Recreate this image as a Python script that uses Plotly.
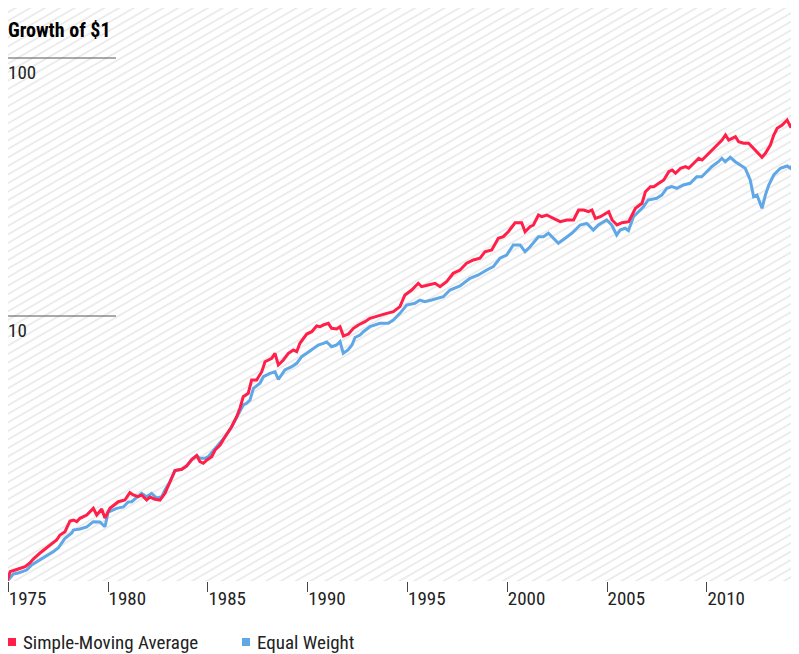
import base64
import math
import plotly.graph_objects as go

# ---------------- data ----------------
sma_years = [1974.95, 1975.09, 1975.34, 1975.59, 1975.84, 1976.08, 1976.25, 1976.59, 1976.84, 1977.09,
             1977.42, 1977.59, 1977.84, 1978.09, 1978.26, 1978.43, 1978.59, 1978.93, 1979.18, 1979.26,
             1979.43, 1979.68, 1979.84, 1980.09, 1980.51, 1980.84, 1981.09, 1981.26, 1981.51, 1981.68,
             1981.93, 1982.10, 1982.35, 1982.60, 1982.85, 1983.10, 1983.35, 1983.69, 1983.94, 1984.19,
             1984.44, 1984.60, 1984.77, 1984.95, 1985.19, 1985.36, 1985.61, 1985.86, 1986.19, 1986.44,
             1986.61, 1986.77, 1987.02, 1987.19, 1987.44, 1987.70, 1987.86, 1988.20, 1988.36, 1988.53,
             1988.78, 1989.03, 1989.28, 1989.45, 1989.61, 1989.95, 1990.20, 1990.45, 1990.62, 1990.78,
             1991.03, 1991.20, 1991.45, 1991.62, 1991.79, 1992.04, 1992.29, 1992.54, 1992.87, 1993.12,
             1993.62, 1993.96, 1994.29, 1994.62, 1994.87, 1995.21, 1995.54, 1995.71, 1996.04, 1996.38,
             1996.63, 1996.96, 1997.29, 1997.63, 1997.96, 1998.30, 1998.63, 1998.88, 1999.22, 1999.55,
             1999.80, 2000.05, 2000.39, 2000.72, 2000.89, 2001.14, 2001.31, 2001.56, 2001.73, 2001.98,
             2002.31, 2002.65, 2002.98, 2003.32, 2003.57, 2003.82, 2004.07, 2004.24, 2004.41, 2004.66,
             2005.08, 2005.25, 2005.50, 2005.75, 2006.08, 2006.25, 2006.42, 2006.75, 2006.92, 2007.17,
             2007.34, 2007.59, 2007.84, 2008.09, 2008.26, 2008.43, 2008.68, 2008.93, 2009.09, 2009.34,
             2009.59, 2009.76, 2010.01, 2010.34, 2010.59, 2010.76, 2010.93, 2011.09, 2011.26, 2011.43,
             2011.59, 2011.84, 2012.09, 2012.34, 2012.51, 2012.76, 2012.93, 2013.18, 2013.35, 2013.52,
             2013.77, 2014.02, 2014.10, 2014.19, 2014.35, 2014.55]
sma_values = [0.942, 1.021, 1.036, 1.055, 1.067, 1.103, 1.143, 1.206, 1.250, 1.295,
              1.354, 1.416, 1.459, 1.605, 1.619, 1.595, 1.644, 1.693, 1.770, 1.797,
              1.693, 1.786, 1.649, 1.797, 1.906, 1.935, 2.066, 2.024, 1.994, 2.024,
              1.935, 1.988, 1.948, 1.935, 2.055, 2.279, 2.519, 2.546, 2.622, 2.778,
              2.880, 2.724, 2.686, 2.766, 2.849, 3.024, 3.162, 3.405, 3.723, 4.072,
              4.400, 4.867, 5.017, 5.648, 5.648, 6.082, 6.651, 6.856, 7.169, 6.458,
              6.752, 7.169, 7.383, 7.272, 7.838, 8.515, 8.692, 9.147, 9.090, 9.229,
              9.370, 8.961, 8.905, 9.090, 8.366, 8.515, 8.961, 9.229, 9.504, 9.797,
              10.09, 10.24, 10.39, 10.87, 12.06, 12.61, 13.39, 12.99, 13.19, 13.39,
              12.99, 13.59, 14.64, 15.08, 16.01, 16.49, 16.74, 17.75, 18.03, 20.01,
              20.30, 21.22, 22.99, 22.99, 21.22, 22.19, 22.53, 24.63, 24.26, 24.63,
              23.91, 23.20, 23.56, 23.56, 25.76, 25.76, 25.37, 25.76, 23.91, 24.26,
              25.37, 23.56, 22.53, 22.99, 23.20, 24.63, 26.15, 27.35, 30.33, 31.71,
              31.71, 32.69, 33.67, 36.25, 36.81, 35.75, 37.37, 37.91, 37.37, 39.07,
              40.85, 40.24, 42.07, 44.67, 46.71, 48.11, 50.30, 48.11, 48.84, 49.55,
              47.38, 46.71, 46.71, 44.67, 43.34, 41.22, 42.72, 46.00, 50.30, 53.40,
              55.00, 57.51, 55.84, 54.17, 54.17, 56.63]

ew_years = [1975.00, 1975.25, 1975.50, 1975.92, 1976.17, 1976.75, 1977.25, 1977.50, 1977.84, 1978.18,
            1978.26, 1978.59, 1978.93, 1979.26, 1979.59, 1979.84, 1980.01, 1980.43, 1980.76, 1981.01,
            1981.18, 1981.68, 1981.93, 1982.18, 1982.43, 1982.69, 1982.85, 1983.10, 1983.35, 1983.69,
            1983.94, 1984.19, 1984.44, 1984.60, 1984.85, 1985.02, 1985.36, 1985.57, 1985.86, 1986.19,
            1986.52, 1986.77, 1986.94, 1987.11, 1987.28, 1987.61, 1987.78, 1988.11, 1988.36, 1988.53,
            1988.86, 1989.20, 1989.45, 1989.70, 1989.95, 1990.28, 1990.53, 1990.78, 1990.95, 1991.20,
            1991.45, 1991.62, 1991.78, 1992.02, 1992.22, 1992.37, 1992.62, 1992.79, 1993.12, 1993.62,
            1994.04, 1994.29, 1994.62, 1994.96, 1995.37, 1995.62, 1995.87, 1996.21, 1996.54, 1996.79,
            1997.13, 1997.63, 1998.13, 1998.55, 1998.97, 1999.30, 1999.63, 1999.97, 2000.30, 2000.64,
            2000.89, 2001.14, 2001.56, 2001.81, 2002.06, 2002.56, 2002.90, 2003.23, 2003.65, 2003.98,
            2004.31, 2004.56, 2004.98, 2005.23, 2005.48, 2005.65, 2005.90, 2006.07, 2006.32, 2006.57,
            2006.82, 2007.06, 2007.48, 2007.74, 2007.99, 2008.24, 2008.49, 2008.82, 2009.16, 2009.49,
            2009.74, 2009.99, 2010.24, 2010.58, 2010.75, 2010.92, 2011.17, 2011.42, 2011.67, 2011.92,
            2012.17, 2012.34, 2012.51, 2012.76, 2012.93, 2013.10, 2013.35, 2013.68, 2014.02, 2014.19,
            2014.35, 2014.55]
ew_values = [0.948, 1.000, 1.009, 1.036, 1.084, 1.153, 1.220, 1.261, 1.375, 1.442,
             1.481, 1.494, 1.521, 1.595, 1.591, 1.525, 1.739, 1.797, 1.819, 1.901,
             1.906, 2.055, 1.994, 2.055, 1.970, 1.994, 2.116, 2.279, 2.519, 2.546,
             2.622, 2.778, 2.880, 2.808, 2.808, 2.849, 3.071, 3.211, 3.405, 3.723,
             4.133, 4.519, 4.588, 4.725, 5.245, 5.485, 5.817, 5.997, 6.082, 5.684,
             6.176, 6.361, 6.556, 6.954, 7.169, 7.496, 7.720, 7.838, 7.929, 7.603,
             7.720, 7.951, 7.169, 7.383, 7.720, 8.254, 8.441, 8.692, 9.090, 9.370,
             9.370, 9.650, 10.24, 11.03, 11.20, 11.53, 11.36, 11.53, 11.71, 11.88,
             12.61, 13.07, 14.00, 14.42, 15.08, 15.53, 16.74, 17.24, 18.85, 18.85,
             17.75, 18.56, 20.30, 20.30, 20.92, 19.13, 20.01, 20.92, 22.53, 22.87,
             21.54, 22.53, 23.56, 22.53, 20.61, 21.54, 21.88, 21.41, 24.26, 25.37,
             26.52, 28.16, 28.59, 29.44, 31.26, 31.71, 31.26, 32.20, 32.69, 34.67,
             34.67, 36.25, 37.91, 39.63, 40.85, 39.63, 41.22, 39.63, 38.48, 37.37,
             33.67, 29.00, 29.44, 26.15, 29.44, 32.20, 35.20, 37.37, 38.14, 37.37,
             39.07, 40.85]

series_names = ["Simple-Moving Average", "Equal Weight"]
series_colors = ["#ff1f48", "#5fa7e6"]
x_tick_years = [1975, 1980, 1985, 1990, 1995, 2000, 2005, 2010]
y_tick_values = [10, 100]
title_text = "Growth of $1"

# ---------------- layout constants ----------------
# The page body adds an 8px offset, so the figure is sized to the remaining window.
OFF = 8
W, H = 799 - OFF, 654 - OFF
ML, MR, MT, MB = 0, 0, 0, 73
PW, PH = W - ML - MR, H - MT - MB
FONT = "Liberation Sans Narrow, Arial Narrow, Roboto Condensed, DejaVu Sans Condensed, sans-serif"
TEXT_COLOR = "#222222"

def sx(px):
    """screen x pixel -> paper x"""
    return (px - OFF - ML) / PW

def sy(py):
    """screen y pixel -> paper y"""
    return (H - MB - (py - OFF)) / PH

# diagonal hatch background as an SVG image
hatch_svg = (
    f'<svg xmlns="http://www.w3.org/2000/svg" width="{PW}" height="{PH}" viewBox="0 0 {PW} {PH}">'
    '<defs><pattern id="h" patternUnits="userSpaceOnUse" width="40" height="7.4" '
    'patternTransform="rotate(-30)">'
    '<line x1="-5" y1="3.7" x2="45" y2="3.7" stroke="#e4e4e4" stroke-width="1.4"/>'
    '</pattern></defs>'
    f'<rect x="0" y="0" width="{PW}" height="{PH}" fill="url(#h)"/></svg>'
)
hatch_src = "data:image/svg+xml;base64," + base64.b64encode(hatch_svg.encode()).decode()

fig = go.Figure()
fig.add_trace(go.Scatter(x=ew_years, y=ew_values, mode="lines", name=series_names[1],
                         line=dict(color=series_colors[1], width=3), showlegend=False))
fig.add_trace(go.Scatter(x=sma_years, y=sma_values, mode="lines", name=series_names[0],
                         line=dict(color=series_colors[0], width=3), showlegend=False))

shapes = []
annotations = []
# short gridlines + labels for y ticks
for v in y_tick_values:
    shapes.append(dict(type="line", xref="paper", yref="y", x0=sx(7), x1=sx(116),
                       y0=v, y1=v, line=dict(color="#555555", width=1)))
    annotations.append(dict(xref="paper", yref="y", x=sx(5.5), y=math.log10(v),
                            text=str(v), showarrow=False, xanchor="left", yanchor="top", yshift=-1,
                            font=dict(family=FONT, size=19, color=TEXT_COLOR)))

# title
annotations.append(dict(xref="paper", yref="paper", x=sx(6), y=sy(30),
                        text=f"<b>{title_text}</b>", showarrow=False, xanchor="left", yanchor="middle",
                        font=dict(family=FONT, size=20, color="#000000")))

# legend (square keys + labels)
legend_x = [8, 242]
legend_y = 642
for i, name in enumerate(series_names):
    x0 = legend_x[i]
    shapes.append(dict(type="rect", xref="paper", yref="paper",
                       x0=sx(x0), x1=sx(x0 + 8),
                       y0=sy(legend_y + 4), y1=sy(legend_y - 4),
                       fillcolor=series_colors[i], line=dict(width=0)))
    annotations.append(dict(xref="paper", yref="paper", x=sx(x0 + 13), y=sy(legend_y),
                            text=name, showarrow=False, xanchor="left", yanchor="middle",
                            font=dict(family=FONT, size=19, color=TEXT_COLOR)))

fig.update_layout(
    width=W, height=H,
    margin=dict(l=ML, r=MR, t=MT, b=MB, pad=0),
    paper_bgcolor="white",
    plot_bgcolor="rgba(0,0,0,0)",
    showlegend=False,
    shapes=shapes,
    annotations=annotations,
    images=[dict(source=hatch_src, xref="paper", yref="paper", x=0, y=1, sizex=1, sizey=1,
                 xanchor="left", yanchor="top", sizing="stretch", layer="below")],
    xaxis=dict(range=[1974.985, 2014.614], showgrid=False, zeroline=False, showline=False,
               tickmode="array", tickvals=x_tick_years, ticktext=[str(t) for t in x_tick_years],
               ticks="outside", ticklen=10, tickwidth=1, tickcolor="#444444",
               ticklabelposition="outside right",
               tickfont=dict(family=FONT, size=19, color=TEXT_COLOR)),
    yaxis=dict(type="log", range=[-0.0271, 2.1938], showgrid=False, zeroline=False, showline=False,
               showticklabels=False, ticks=""),
)

fig.write_html("out.html")
